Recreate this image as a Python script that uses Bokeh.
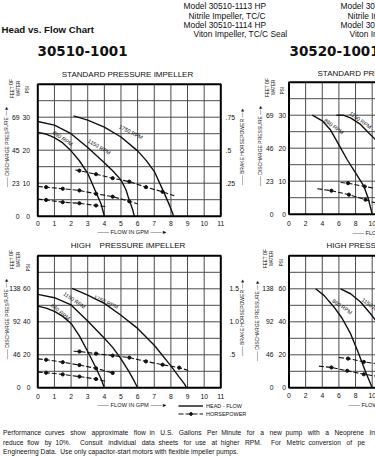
import math
from bokeh.plotting import figure
from bokeh.models import Range1d, Legend, LegendItem
from bokeh.embed import file_html
from bokeh.resources import INLINE
from bokeh.core.properties import value

W, H = 375, 456
FONT = "Liberation Sans"
ARROWF = "'Liberation Sans', 'DejaVu Sans'"
BOLDF = "DejaVu Sans"
INK = "#111111"
GRID = "#4c4c4c"

# ---------------- texts ----------------
page_title = "Head vs. Flow Chart"
models_a = ["Model 30510-1113 HP", "Nitrile Impeller, TC/C", "Model 30510-1114 HP", "Viton Impeller, TC/C Seal"]
models_b = ["Model 30", "Nitrile Im", "Model 30", "Viton Im"]
chart_ids = ["30510-1001", "30520-1001"]
title_std = "STANDARD PRESSURE IMPELLER"
title_std_cut = "STANDARD PRE"
title_high = "HIGH\u00a0\u00a0\u00a0 PRESSURE IMPELLER"
title_high_cut = "HIGH PRESS"
footer_lines = [
    "Performance curves show approximate flow in U.S. Gallons Per Minute for a new pump with a Neoprene In",
    "reduce flow by 10%.  Consult individual data sheets for use at higher RPM.  For Metric conversion of pe",
    "Engineering Data.  Use only capacitor-start motors with flexible impeller pumps.",
]
footer_justified = [True, True, False]
rpm_names = ["860 RPM", "1150 RPM", "1750 RPM"]
dp_text = "\u2014\u2014 DISCHARGE PRESSURE \u2014\u25ba"
bhp_text = "\u2014\u2014 BRAKE HORSEPOWER \u2014\u25ba"
flow_text = "\u2014\u2014 FLOW IN GPM \u2014\u2014\u25ba"
legend_labels = ["HEAD - FLOW", "HORSEPOWER"]

# ---------------- tick values / labels ----------------
gpm_ticks_left = list(range(0, 12))
gpm_ticks_right = [0, 2, 4, 6, 8, 10]
std_psi_ticks = [0, 10, 20, 30]
std_feet_tl = ["0", "23", "45", "69"]
std_feet_tr = ["0", "23", "46", "69"]
std_hp_ticks = [0.25, 0.5, 0.75]
std_hp_labels = [".25", ".5", ".75"]
high_psi_ticks = [0, 20, 40, 60]
high_feet = ["0", "46", "92", "138"]
high_hp_ticks = [0.5, 1.0, 1.5]
high_hp_labels = [".5", "1.0", "1.5"]

# ---------------- 30510-1001 standard (GPM, PSI) ----------------
tl_860_gpm = [0, 0.5, 1, 1.5, 2, 2.5, 3, 3.5, 3.8, 4.0]
tl_860_psi = [25.4, 24.9, 23.8, 22.2, 19.8, 16.8, 13.0, 7.2, 3.8, 0]
tl_1150_gpm = [0, 1, 2, 3, 4, 4.5, 5, 5.3, 5.5, 5.7, 5.8]
tl_1150_psi = [28.7, 27.6, 25.0, 20.8, 16.2, 13.8, 11.0, 8.0, 4.8, 2.0, 0]
tl_1750_gpm = [2.15, 3, 4, 5, 6, 6.5, 7, 7.6, 7.9, 8.1, 8.15]
tl_1750_psi = [30.4, 29.1, 27.0, 24.0, 19.8, 17.0, 13.6, 7.0, 3.5, 1.0, 0]
tl_hp1750_gpm = [2.25, 2.5, 3.5, 4.5, 5.5, 6.5, 7.5, 8.2]
tl_hp1750 = [0.350, 0.345, 0.318, 0.288, 0.262, 0.220, 0.185, 0.155]
tl_hp1150_gpm = [0, 0.5, 1.5, 2.5, 3.5, 4.5, 5.5, 6.0]
tl_hp1150 = [0.225, 0.220, 0.208, 0.195, 0.170, 0.148, 0.113, 0.093]
tl_hp860_gpm = [0, 0.5, 1.5, 2.5, 3.5, 4.1]
tl_hp860 = [0.130, 0.123, 0.106, 0.098, 0.081, 0.073]
tl_marks = [[2.5, 3.5, 4.5, 5.5, 6.5, 7.5], [0.5, 1.5, 2.5, 3.5, 4.5, 5.5], [0.5, 1.5, 2.5, 3.5]]
tl_lab_gpm = [1.5, 3.7, 5.6]
tl_lab_psi = [23.6, 21.0, 25.5]
tl_lab_deg = [-34, -31, -27]

# ---------------- 30510-1001 high pressure ----------------
bl_860_gpm = [0, 0.5, 1, 1.5, 2, 2.5, 3, 3.5, 3.8, 4.0]
bl_860_psi = [49.5, 48.3, 46.3, 43.3, 39.0, 31.5, 22.0, 12.0, 5.5, 0]
bl_1150_gpm = [0, 1, 2, 3, 4, 4.5, 5, 5.5, 5.8, 6.0]
bl_1150_psi = [56.6, 54.6, 50.2, 40.5, 30.0, 24.5, 17.5, 9.5, 4.0, 0]
bl_1750_gpm = [2.06, 3, 4, 5, 6, 7, 8, 8.5, 8.8, 8.95]
bl_1750_psi = [60.3, 56.2, 51.2, 44.0, 36.0, 25.8, 13.3, 6.5, 2.5, 0]
bl_hp1750_gpm = [2.15, 2.5, 3.5, 4.5, 5.5, 6.5, 7.5, 8.5, 9.05]
bl_hp1750 = [0.553, 0.550, 0.518, 0.488, 0.458, 0.400, 0.350, 0.305, 0.263]
bl_hp1150_gpm = [0, 0.5, 1.5, 2.5, 3.5, 4.5]
bl_hp1150 = [0.438, 0.425, 0.388, 0.345, 0.295, 0.225]
bl_hp860_gpm = [0, 0.5, 1.5, 2.5, 3.5, 4.05]
bl_hp860 = [0.238, 0.228, 0.203, 0.170, 0.133, 0.100]
bl_marks = [[2.5, 3.5, 4.5, 5.5, 6.5, 7.5, 8.5], [0.5, 1.5, 2.5, 3.5, 4.5], [0.5, 1.5, 2.5, 3.5]]
bl_lab_gpm = [1.36, 2.2, 4.1]
bl_lab_psi = [46.0, 53.0, 52.0]
bl_lab_deg = [-40, -34, -24]

# ---------------- 30520-1001 standard ----------------
tr_860_gpm = [2.8, 4, 5, 6, 7, 8, 9, 9.5, 9.8, 10.0]
tr_860_psi = [30.0, 28.3, 25.5, 21.0, 16.5, 12.5, 8.5, 5.0, 2.0, 0]
tr_1150_gpm = [5.7, 6.5, 7.4, 8.6, 9.6, 10.4]
tr_1150_psi = [30.0, 30.0, 29.2, 27.2, 24.6, 22.6]
tr_hp1150_gpm = [6.2, 7.1, 9.1, 10.4]
tr_hp1150 = [0.240, 0.235, 0.210, 0.195]
tr_hp860_gpm = [3.4, 5.1, 7.2, 9.2, 10.4]
tr_hp860 = [0.193, 0.178, 0.148, 0.110, 0.085]
tr_marks = [[7.1, 9.1], [5.1, 7.2, 9.2]]
tr_lab_gpm = [5.4, 8.6]
tr_lab_psi = [26.6, 28.5]
tr_lab_deg = [-36, -36]

# ---------------- 30520-1001 high pressure ----------------
br_860_gpm = [3.2, 4.2, 5.4, 6.4, 7.4, 8.3, 9.2, 10.0]
br_860_psi = [60.0, 56.0, 49.0, 42.0, 32.8, 21.7, 9.7, 0]
br_1150_gpm = [6.2, 7.4, 8.6, 9.8, 10.5]
br_1150_psi = [60.0, 57.0, 52.0, 44.9, 40.3]
br_hp1150_gpm = [6.0, 7.1, 9.0, 10.4]
br_hp1150 = [0.458, 0.443, 0.393, 0.368]
br_hp860_gpm = [3.6, 5.1, 7.0, 9.0, 10.4]
br_hp860 = [0.328, 0.308, 0.258, 0.205, 0.180]
br_marks = [[7.1, 9.0], [5.1, 7.0, 9.0]]
br_lab_gpm = [6.4, 10.05]
br_lab_psi = [49.2, 49.1]
br_lab_deg = [-35, -37]

# ---------------- single page figure (page pixel space, y downwards) ----------------
p = figure(width=W, height=H, x_range=Range1d(0, W), y_range=Range1d(H, 0),
           output_backend="svg", toolbar_location=None, x_axis_type=None, y_axis_type=None,
           min_border_left=0, min_border_right=0, min_border_top=0, min_border_bottom=0)
p.outline_line_color = None
p.background_fill_color = "white"
p.border_fill_color = "white"


def ptext(x, y, t, size, align="left", angle=0.0, font=FONT, style="normal"):
    p.text(x=x, y=y, text=t, angle=[math.radians(angle)] * len(t), text_font=value(font),
           text_font_size=size, text_font_style=style, text_align=align,
           text_baseline="middle", text_color=INK)


def justify(line, extra):
    # widen the word gaps (justified paragraph) with non-breaking spaces
    words = line.split(" ")
    gaps = len(words) - 1
    out = words[0]
    for i, w in enumerate(words[1:]):
        n = extra * (i + 1) // gaps - extra * i // gaps
        out += " " + "\u00a0" * n + w
    return out


def panel(name, left, bottom, sx, sy, xmax, ymax, hpmax, xstep, ystep,
          xticks, x_off, psi_ticks, psi_off, feet, feet_off, hp_ticks, hp_labels, hp_off,
          curves, hps, marks, lab):
    xr, yr, hr = name + "_x", name + "_y", name + "_hp"
    k = hpmax / ymax
    p.extra_x_ranges = {**p.extra_x_ranges, xr: Range1d(-left / sx, (W - left) / sx)}
    p.extra_y_ranges = {**p.extra_y_ranges,
                        yr: Range1d(-(H - bottom) / sy, bottom / sy),
                        hr: Range1d(-(H - bottom) / sy * k, bottom / sy * k)}
    kw = dict(x_range_name=xr, y_range_name=yr)
    xg = list(range(xstep, xmax, xstep))
    yg = list(range(ystep, ymax, ystep))
    p.segment(x0=xg, y0=[0] * len(xg), x1=xg, y1=[ymax] * len(xg), line_color=GRID, line_width=1, **kw)
    p.segment(x0=[0] * len(yg), y0=yg, x1=[xmax] * len(yg), y1=yg, line_color=GRID, line_width=1, **kw)
    p.quad(left=[0], right=[xmax], bottom=[0], top=[ymax], fill_color=None,
           line_color="black", line_width=2, **kw)
    # tick labels
    tk = dict(text_font=value(FONT), text_font_size="6.8px", text_baseline="middle", text_color=INK)
    p.text(x=xticks, y=[-x_off / sy] * len(xticks), text=[str(t) for t in xticks],
           text_align="center", **tk, **kw)
    p.text(x=[-psi_off / sx] * len(psi_ticks), y=psi_ticks, text=[str(t) for t in psi_ticks],
           text_align="right", **tk, **kw)
    p.text(x=[-feet_off / sx] * len(psi_ticks), y=psi_ticks, text=feet,
           text_align="right", **tk, **kw)
    if hp_ticks:
        p.text(x=[xmax + hp_off / sx] * len(hp_ticks), y=hp_ticks, text=hp_labels,
               text_align="left", x_range_name=xr, y_range_name=hr, **tk)
    # curves
    crs = [p.line(gx, gy, line_color=INK, line_width=1.4, **kw) for gx, gy in curves]
    hrs = []
    for (gx, hv), mk in zip(hps, marks):
        r1 = p.line(gx, hv, line_color=INK, line_width=1.1, line_dash="5 2",
                    x_range_name=xr, y_range_name=hr)
        mx = [x for x in gx if x in mk]
        my = [h for x, h in zip(gx, hv) if x in mk]
        r2 = p.scatter(mx, my, marker="circle", size=3.2, fill_color=INK, line_color=INK,
                       x_range_name=xr, y_range_name=hr)
        hrs.append((r1, r2))
    lx, ly, ld, lt = lab
    p.text(x=lx, y=ly, text=lt, angle=[math.radians(d) for d in ld], text_font=value(FONT),
           text_font_size="5.5px", text_align="center", text_baseline="middle",
           text_color=INK, **kw)
    return crs, hrs


SX = 183.0 / 11   # px per GPM (left charts)
panel("tl", 37.3, 215.7, SX, 3.3, 11, 40, 1.0, 1, 5,
      gpm_ticks_left, 7.3, std_psi_ticks, 7.8, std_feet_tl, 18.3, std_hp_ticks, std_hp_labels, 4.7,
      [(tl_860_gpm, tl_860_psi), (tl_1150_gpm, tl_1150_psi), (tl_1750_gpm, tl_1750_psi)],
      [(tl_hp1750_gpm, tl_hp1750), (tl_hp1150_gpm, tl_hp1150), (tl_hp860_gpm, tl_hp860)], tl_marks,
      (tl_lab_gpm, tl_lab_psi, tl_lab_deg, rpm_names))
bl_curves, bl_hps = panel(
      "bl", 37.3, 387.3, SX, 1.65, 11, 80, 2.0, 1, 10,
      gpm_ticks_left, 8.7, high_psi_ticks, 7.3, high_feet, 17.3, high_hp_ticks, high_hp_labels, 8.7,
      [(bl_860_gpm, bl_860_psi), (bl_1150_gpm, bl_1150_psi), (bl_1750_gpm, bl_1750_psi)],
      [(bl_hp1750_gpm, bl_hp1750), (bl_hp1150_gpm, bl_hp1150), (bl_hp860_gpm, bl_hp860)], bl_marks,
      (bl_lab_gpm, bl_lab_psi, bl_lab_deg, rpm_names))
panel("tr", 288.5, 213.7, SX / 2, 3.3, 22, 40, 1.0, 2, 5,
      gpm_ticks_right, 9.0, std_psi_ticks, 3.0, std_feet_tr, 15.5, None, None, 0,
      [(tr_860_gpm, tr_860_psi), (tr_1150_gpm, tr_1150_psi)],
      [(tr_hp1150_gpm, tr_hp1150), (tr_hp860_gpm, tr_hp860)], tr_marks,
      (tr_lab_gpm, tr_lab_psi, tr_lab_deg, rpm_names[:2]))
panel("br", 288.5, 387.3, SX / 2, 1.65, 22, 80, 2.0, 2, 10,
      gpm_ticks_right, 7.4, high_psi_ticks, 3.0, high_feet, 15.5, None, None, 0,
      [(br_860_gpm, br_860_psi), (br_1150_gpm, br_1150_psi)],
      [(br_hp1150_gpm, br_hp1150), (br_hp860_gpm, br_hp860)], br_marks,
      (br_lab_gpm, br_lab_psi, br_lab_deg, rpm_names[:2]))

# ---------------- header ----------------
ptext([1], [29], [page_title], "9.7px", style="bold")
ptext([183, 188, 183, 193], [5, 15, 24, 33], models_a, "8.4px")
ptext([340, 347, 340, 349], [5, 15, 24, 33], models_b, "8.4px")
ptext([37, 289], [50, 50], chart_ids, "13.5px", font=BOLDF, style="bold")

# ---------------- panel titles / axis titles ----------------
ptext([127, 127.5], [74, 245], [title_std, title_high], "8px", align="center")
ptext([317, 326], [73, 245], [title_std_cut, title_high_cut], "8px")
ptext([14.5, 270, 14.5, 268], [88, 87, 259, 258], ["FEET OF\nWATER"] * 4, "4.5px", align="center", angle=90)
ptext([27, 282, 28, 281], [89, 90, 267, 262], ["PSI"] * 4, "4.5px", align="center", angle=90)
ptext([6, 259, 6, 256], [146, 145, 318, 320], [dp_text] * 4, "5px", align="center", angle=90, font=ARROWF)
ptext([241, 241], [146, 317], [bhp_text] * 2, "5px", align="center", angle=90, font=ARROWF)
ptext([132, 132], [231, 404], [flow_text] * 2, "5.7px", align="center", font=ARROWF)
ptext([352, 348], [232, 404], ["\u2014\u2014 FLOW IN"] * 2, "5.7px", font=ARROWF)

# ---------------- legend ----------------
legend = Legend(items=[LegendItem(label=legend_labels[0], renderers=[bl_curves[0]]),
                       LegendItem(label=legend_labels[1], renderers=list(bl_hps[0]))],
                location=(178, 39), border_line_color=None, background_fill_alpha=0,
                label_text_font=FONT, label_text_font_size="5.5px", label_text_color=INK,
                glyph_width=25, glyph_height=7, label_height=7, spacing=1,
                padding=0, margin=0, label_standoff=3)
p.add_layout(legend)

# ---------------- footer (justified paragraph) ----------------
shown = [justify(s, 30) if j else s.replace("  ", " \u00a0") for s, j in zip(footer_lines, footer_justified)]
ptext([2.5, 2.5, 2.5], [432, 441.5, 451], shown, "6.7px")

open("out.html", "w").write(file_html(p, INLINE))
